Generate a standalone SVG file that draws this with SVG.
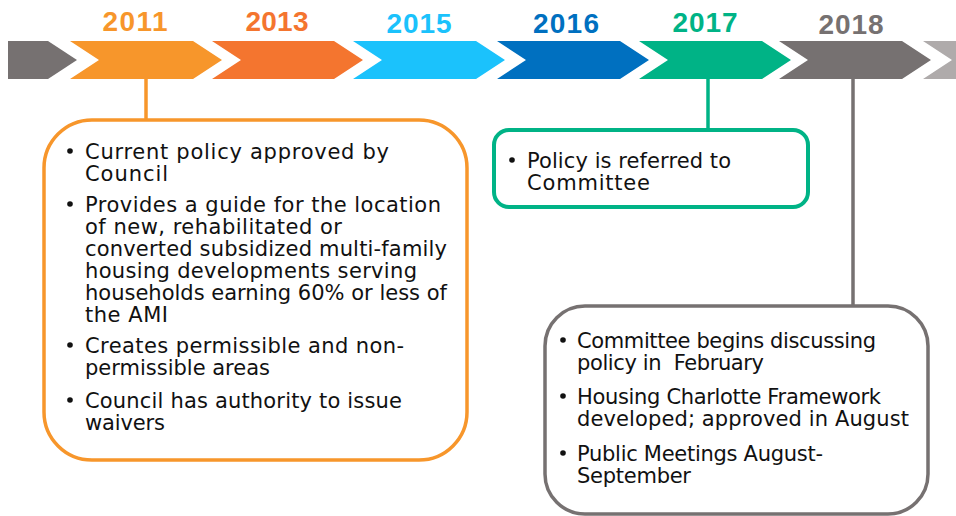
<svg xmlns="http://www.w3.org/2000/svg" width="956" height="516" viewBox="0 0 956 516">
  <style>
    .year { font-family: "Liberation Sans", Arial, sans-serif; font-weight: bold; font-size: 28px; text-anchor: middle; }
    .body { font-family: "DejaVu Sans", "Liberation Sans", sans-serif; font-size: 21px; fill: #111111; }
    .dot { fill: #111111; }
    .box { fill: #ffffff; }
    .link { fill: none; }
  </style>
  <rect width="956" height="516" fill="#ffffff"/>

  <!-- timeline bar -->
  <g id="timeline">
    <path id="lead" d="M8,41 H48 L77,60 L48,79 H8 Z" fill="#767171"/>
    <g id="y2011">
      <path d="M70,41 H193 L222,60 L193,79 H70 L99,60 Z" fill="#F7962B"/>
      <text class="year" x="135" y="31" fill="#F7962B" textLength="65">2011</text>
    </g>
    <g id="y2013">
      <path d="M212,41 H334 L363,60 L334,79 H212 L241,60 Z" fill="#F4752F"/>
      <text class="year" x="277" y="31" fill="#F4752F" textLength="63">2013</text>
    </g>
    <g id="y2015">
      <path d="M353,41 H476 L505,60 L476,79 H353 L382,60 Z" fill="#1BC2FC"/>
      <text class="year" x="419" y="33" fill="#1BC2FC" textLength="65">2015</text>
    </g>
    <g id="y2016">
      <path d="M497,41 H620 L649,60 L620,79 H497 L526,60 Z" fill="#0070C0"/>
      <text class="year" x="566" y="33" fill="#0070C0" textLength="66">2016</text>
    </g>
    <g id="y2017">
      <path d="M639,41 H762 L791,60 L762,79 H639 L668,60 Z" fill="#00B386"/>
      <text class="year" x="705" y="32" fill="#00B386" textLength="65">2017</text>
    </g>
    <g id="y2018">
      <path d="M779,41 H902 L931,60 L902,79 H779 L808,60 Z" fill="#767171"/>
      <text class="year" x="851" y="34" fill="#767171" textLength="65">2018</text>
    </g>
    <path id="tail" d="M923,41 H960 V79 H923 L952,60 Z" fill="#AFABAB"/>
  </g>

  <!-- connectors from the bar to the boxes -->
  <g id="connectors">
    <line class="link" x1="146" y1="79" x2="146" y2="121" stroke="#F7962B" stroke-width="3.5"/>
    <line class="link" x1="708" y1="79" x2="708" y2="131" stroke="#00B386" stroke-width="3.5"/>
    <line class="link" x1="853" y1="79" x2="853" y2="307" stroke="#767171" stroke-width="3.5"/>
  </g>

  <!-- 2011 box -->
  <g id="box2011">
    <rect class="box" x="44" y="120" width="423" height="340" rx="48" ry="48" stroke="#F7962B" stroke-width="3.5"/>
    <circle class="dot" cx="70" cy="151" r="2.8"/>
    <text class="body" x="85" y="159" textLength="304">Current policy approved by</text>
    <text class="body" x="85" y="181" textLength="83">Council</text>
    <circle class="dot" cx="70" cy="204" r="2.8"/>
    <text class="body" x="85" y="212" textLength="356">Provides a guide for the location</text>
    <text class="body" x="85" y="234" textLength="257">of new, rehabilitated or</text>
    <text class="body" x="85" y="256" textLength="362">converted subsidized multi-family</text>
    <text class="body" x="85" y="278" textLength="332">housing developments serving</text>
    <text class="body" x="85" y="300" textLength="362">households earning 60% or less of</text>
    <text class="body" x="85" y="322" textLength="83">the AMI</text>
    <circle class="dot" cx="70" cy="345" r="2.8"/>
    <text class="body" x="85" y="353" textLength="319">Creates permissible and non-</text>
    <text class="body" x="85" y="375" textLength="185">permissible areas</text>
    <circle class="dot" cx="70" cy="400" r="2.8"/>
    <text class="body" x="85" y="408" textLength="317">Council has authority to issue</text>
    <text class="body" x="85" y="430" textLength="80">waivers</text>
  </g>

  <!-- 2017 box -->
  <g id="box2017">
    <rect class="box" x="494" y="130" width="314" height="77" rx="15" ry="15" stroke="#00B386" stroke-width="4"/>
    <circle class="dot" cx="512" cy="160" r="2.8"/>
    <text class="body" x="527" y="168" textLength="204">Policy is referred to</text>
    <text class="body" x="527" y="190" textLength="123">Committee</text>
  </g>

  <!-- 2018 box -->
  <g id="box2018">
    <rect class="box" x="545" y="306" width="383" height="208" rx="40" ry="40" stroke="#767171" stroke-width="3.5"/>
    <circle class="dot" cx="563" cy="340" r="2.8"/>
    <text class="body" x="577" y="348" textLength="299">Committee begins discussing</text>
    <text class="body" x="577" y="370" textLength="187" xml:space="preserve">policy in  February</text>
    <circle class="dot" cx="563" cy="396" r="2.8"/>
    <text class="body" x="577" y="404" textLength="304">Housing Charlotte Framework</text>
    <text class="body" x="577" y="426" textLength="332">developed; approved in August</text>
    <circle class="dot" cx="563" cy="453" r="2.8"/>
    <text class="body" x="577" y="461" textLength="246">Public Meetings August-</text>
    <text class="body" x="577" y="483" textLength="114">September</text>
  </g>
</svg>
